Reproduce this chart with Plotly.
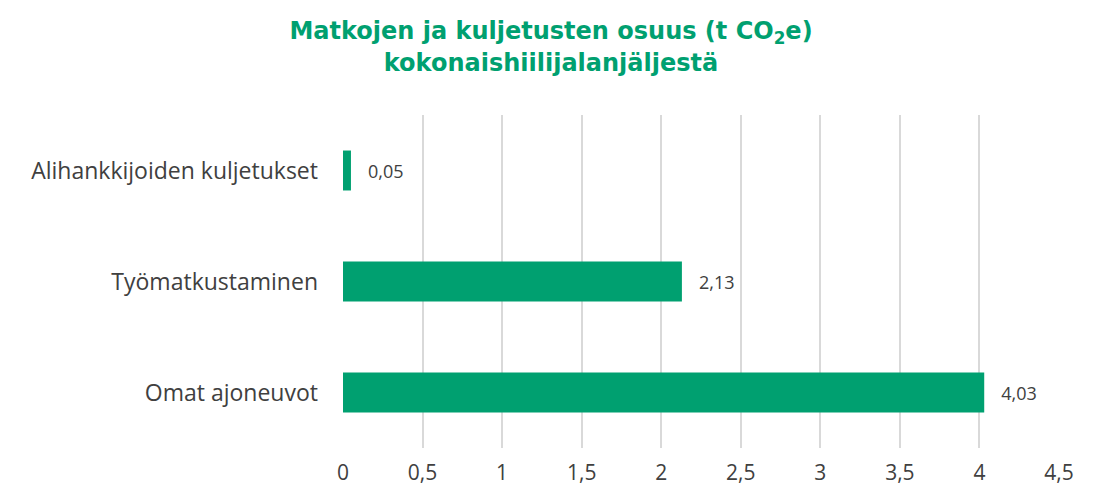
import plotly.graph_objects as go

categories = ['Omat ajoneuvot', 'Työmatkustaminen', 'Alihankkijoiden kuljetukset']
values = [4.03, 2.13, 0.05]
tick_values = [0, 0.5, 1, 1.5, 2, 2.5, 3, 3.5, 4, 4.5]

green = '#00a070'
grey = '#404040'

# page body keeps an 8px margin, so the figure is drawn 16px smaller than the window
fig = go.Figure()
fig.add_trace(go.Bar(
    y=categories,
    x=values,
    orientation='h',
    marker={'color': green, 'line': {'width': 0}},
    text=['   ' + '{:.2f}'.format(v).replace('.', ',') for v in values],
    textposition='outside',
    textfont={'size': 18, 'color': grey},
    cliponaxis=False,
    hoverinfo='skip'))

fig.update_layout(
    template='plotly_white',
    width=1086,
    height=482,
    title={'text': '<b>Matkojen ja kuljetusten osuus (t CO<sub>2</sub>e)<br>kokonaishiilijalanjäljestä</b>',
           'font': {'size': 24, 'color': green, 'family': 'DejaVu Sans'},
           'x': 0.5,
           'xanchor': 'center',
           'y': 0.935,
           'yanchor': 'middle'},
    margin={'l': 335, 'r': 35, 't': 107, 'b': 42},
    bargap=0.64,
    showlegend=False,
    plot_bgcolor='white',
    paper_bgcolor='white',
    font={'family': 'Open Sans', 'color': grey},
    xaxis={'range': [0, 4.5],
           'tickvals': tick_values,
           'ticktext': [str(v).replace('.', ',') if v % 1 else str(int(v)) for v in tick_values],
           'tickfont': {'size': 21, 'color': grey},
           'showgrid': True,
           'gridcolor': '#d9d9d9',
           'gridwidth': 2,
           'zeroline': False,
           'showline': False,
           'automargin': False,
           'ticklabelstandoff': 10,
           'fixedrange': True},
    yaxis={'tickfont': {'size': 23, 'color': grey},
           'showgrid': False,
           'showline': False,
           'ticks': '',
           'automargin': False,
           'ticklabelstandoff': 24,
           'fixedrange': True})

fig.write_html('out.html', config={'displayModeBar': False})
